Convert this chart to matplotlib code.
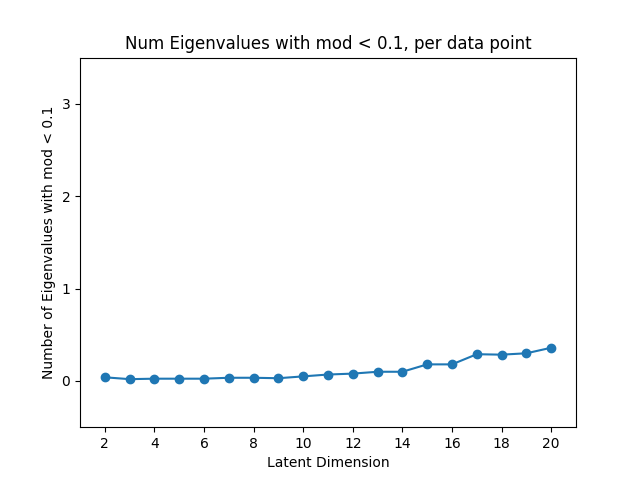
import matplotlib
matplotlib.use("Agg")
import matplotlib.pyplot as plt

# Latent dims and mean count of small-modulus eigenvalues
latent_dims = list(range(2, 21))
num_small = [0.04, 0.02, 0.025, 0.025, 0.025, 0.035, 0.035, 0.03, 0.05,
             0.07, 0.08, 0.10, 0.10, 0.18, 0.18, 0.29, 0.285, 0.30, 0.36]

plt.figure(figsize=(6.4, 4.8), dpi=100)

plt.plot(latent_dims, num_small, marker="o")

plt.xlim(1, 21)
plt.ylim(-0.5, 3.5)
plt.xticks(range(2, 21, 2))
plt.yticks([0, 1, 2, 3])

plt.title("Num Eigenvalues with mod < 0.1, per data point")
plt.xlabel("Latent Dimension")
plt.ylabel("Number of Eigenvalues with mod < 0.1")

plt.savefig("out.png")
